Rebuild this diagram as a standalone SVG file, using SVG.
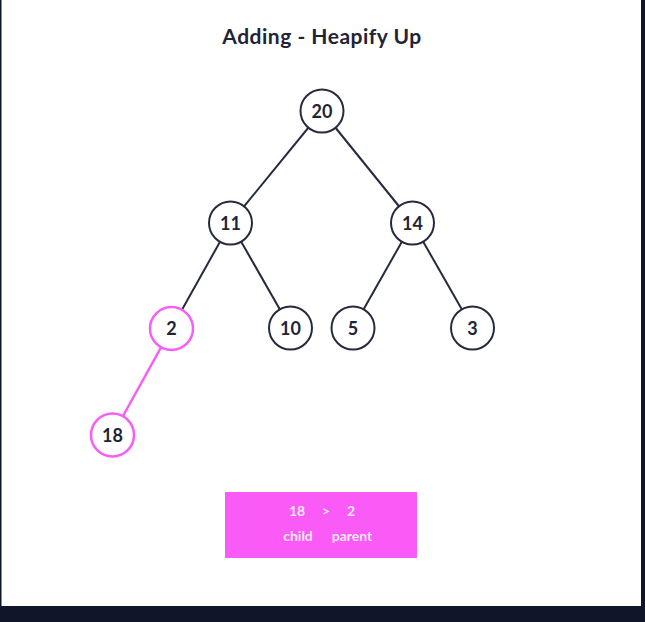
<svg xmlns="http://www.w3.org/2000/svg" width="645" height="622" viewBox="0 0 645 622">
<style>
.edge{stroke:#262a3d;stroke-width:2;fill:none}
.edge.hot{stroke:#f95cf7;stroke-width:2.5}
.node circle{fill:#fff;stroke:#262a3d;stroke-width:2}
.node.hot circle{stroke:#f95cf7;stroke-width:2.5}
.node text{font-family:Lato,"Open Sans",sans-serif;font-weight:700;font-size:18px;fill:#1f2437;text-anchor:middle}
.title{font-family:Lato,"Open Sans",sans-serif;font-weight:700;font-size:21px;letter-spacing:0.5px;fill:#1f2437;text-anchor:middle}
.box text{font-family:Lato,"Open Sans",sans-serif;font-weight:700;font-size:14px;fill:#fff;fill-opacity:0.88;text-anchor:middle}
</style>
<rect x="0" y="0" width="645" height="622" fill="#ffffff"/>
<rect x="0" y="0" width="1.5" height="622" fill="#10162a"/>
<rect x="641" y="0" width="4" height="622" fill="#10162a"/>
<rect x="0" y="606" width="645" height="16" fill="#10162a"/>
<text class="title" x="322" y="44">Adding - Heapify Up</text>
<g id="connectors">
<line class="edge" x1="322" y1="111" x2="230.5" y2="223"/>
<line class="edge" x1="322" y1="111" x2="412.5" y2="223"/>
<line class="edge" x1="230.5" y1="223" x2="171.5" y2="328.5"/>
<line class="edge" x1="230.5" y1="223" x2="290.5" y2="328"/>
<line class="edge" x1="412.5" y1="223" x2="353" y2="328"/>
<line class="edge" x1="412.5" y1="223" x2="472.5" y2="328"/>
<line class="edge hot" x1="171.5" y1="328.5" x2="112.5" y2="435"/>
</g>
<g id="n20" class="node"><circle cx="322" cy="111" r="21.5"/><text x="322" y="117.5">20</text></g>
<g id="n11" class="node"><circle cx="230.5" cy="223" r="21.5"/><text x="230.5" y="229.5">11</text></g>
<g id="n14" class="node"><circle cx="412.5" cy="223" r="21.5"/><text x="412.5" y="229.5">14</text></g>
<g id="n2" class="node hot"><circle cx="171.5" cy="328.5" r="21.5"/><text x="171.5" y="335">2</text></g>
<g id="n10" class="node"><circle cx="290.5" cy="328" r="21.5"/><text x="290.5" y="334.5">10</text></g>
<g id="n5" class="node"><circle cx="353" cy="328" r="21.5"/><text x="353" y="334.5">5</text></g>
<g id="n3" class="node"><circle cx="472.5" cy="328" r="21.5"/><text x="472.5" y="334.5">3</text></g>
<g id="n18" class="node hot"><circle cx="112.5" cy="435" r="21.5"/><text x="112.5" y="441.5">18</text></g>
<g id="compare" class="box">
<rect x="225" y="492" width="192" height="66" fill="#fa5af6"/>
<text x="297" y="516">18</text>
<text x="326" y="516">&gt;</text>
<text x="351" y="516">2</text>
<text x="298" y="541">child</text>
<text x="352" y="541">parent</text>
</g>
</svg>
